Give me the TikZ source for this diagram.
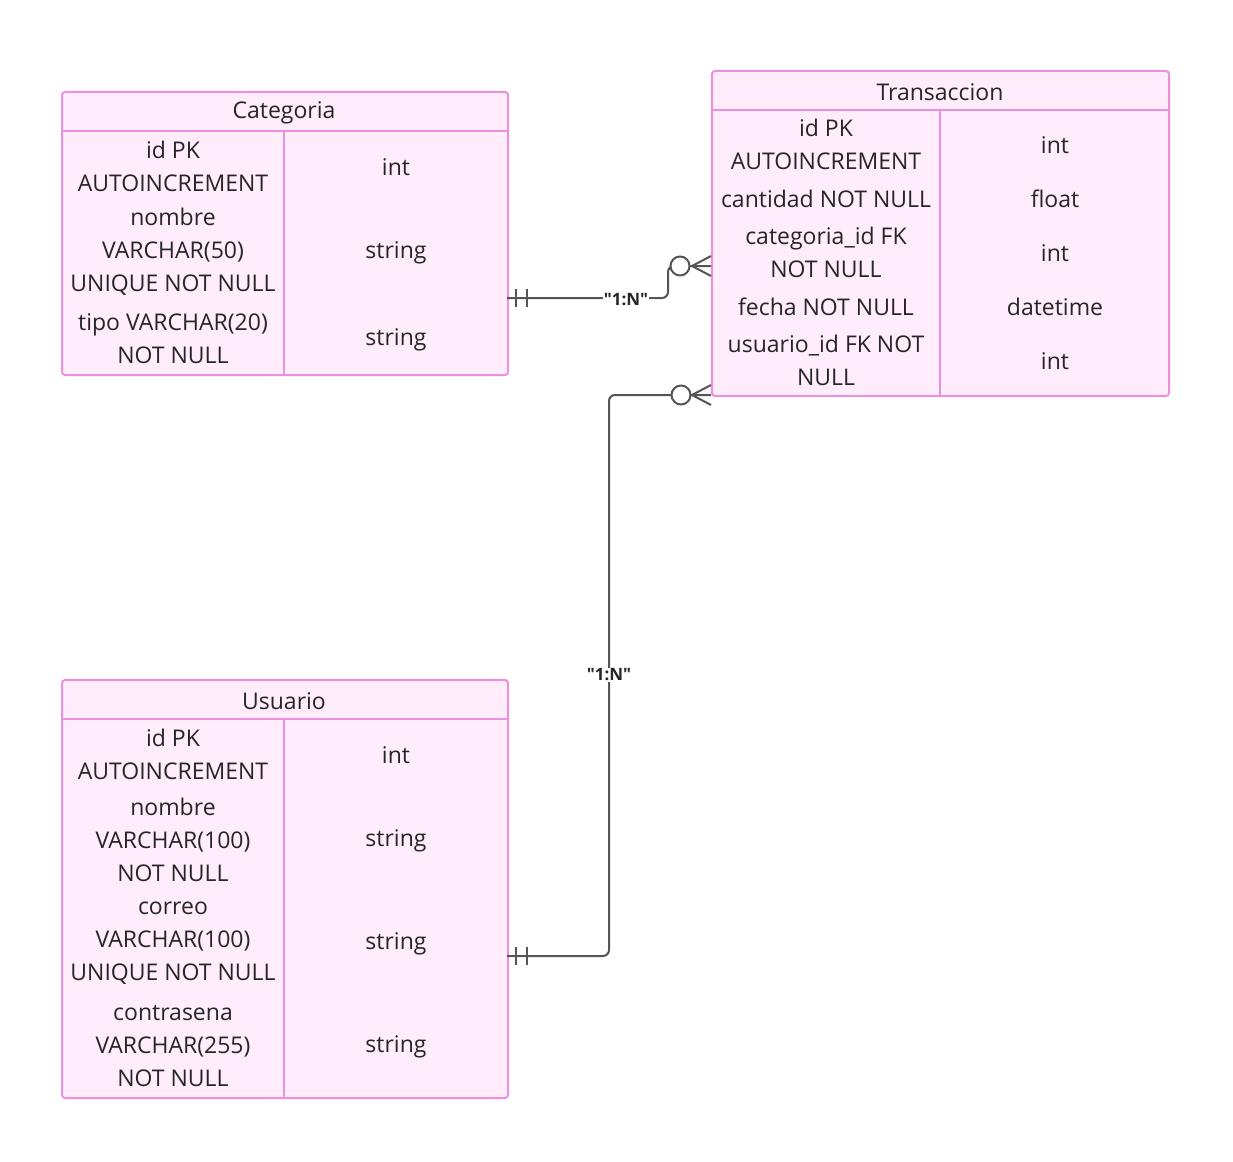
\documentclass[tikz,border=0pt]{standalone}
\usepackage{fontspec}
\setmainfont{Open Sans}
\newfontfamily\lblfont{Open Sans}
\definecolor{tfill}{HTML}{FFEDFC}
\definecolor{tline}{HTML}{EC8FDF}
\definecolor{ttext}{HTML}{262626}
\definecolor{cline}{HTML}{555555}
\tikzset{
  tbl/.style={draw=tline, fill=tfill, line width=2pt, rounded corners=3pt, anchor=north west, inner sep=0pt},
  tblline/.style={draw=tline, line width=2pt},
  cell/.style={text=ttext, font=\fontsize{23}{33}\selectfont, align=center, inner sep=0pt},
  conn/.style={draw=cline, line width=2pt, rounded corners=6pt},
  lbl/.style={fill=white, text=ttext, font=\lblfont\fontsize{17}{20}\selectfont\bfseries, inner sep=1pt},
  ring/.style={draw=cline, line width=2pt, fill=white}
}
\begin{document}
\begin{tikzpicture}[x=1pt,y=-1pt]
\useasboundingbox (0,0) rectangle (1233,1161);
% ---------- Categoria
\node[tbl, minimum width=446pt, minimum height=283pt] (cat) at (61,91) {};
\draw[tblline] (61,131) -- (507,131);
\draw[tblline] (284,131) -- (284,374);
\node[cell] (catH) at (284,113) {Categoria};
\node[cell] (cat1a) at (173,166) {id PK\\AUTOINCREMENT};
\node[cell] (cat1b) at (396,167) {int};
\node[cell] (cat2a) at (173,252) {nombre\\VARCHAR(50)\\UNIQUE NOT NULL};
\node[cell] (cat2b) at (396,253) {string};
\node[cell] (cat3a) at (173,339) {tipo VARCHAR(20)\\NOT NULL};
\node[cell] (cat3b) at (396,340) {string};
% ---------- Transaccion
\node[tbl, minimum width=457pt, minimum height=325pt] (tra) at (711,70) {};
\draw[tblline] (711,110) -- (1168,110);
\draw[tblline] (940,110) -- (940,395);
\node[cell] (traH) at (940,92) {Transaccion};
\node[cell] (tra1a) at (826,144) {id PK\\AUTOINCREMENT};
\node[cell] (tra1b) at (1055,145) {int};
\node[cell] (tra2a) at (826,199) {cantidad NOT NULL};
\node[cell] (tra2b) at (1055,199) {float};
\node[cell] (tra3a) at (826,252) {categoria\_id FK\\NOT NULL};
\node[cell] (tra3b) at (1055,253) {int};
\node[cell] (tra4a) at (826,307) {fecha NOT NULL};
\node[cell] (tra4b) at (1055,307) {datetime};
\node[cell] (tra5a) at (826,360) {usuario\_id FK NOT\\NULL};
\node[cell] (tra5b) at (1055,361) {int};
% ---------- Usuario
\node[tbl, minimum width=446pt, minimum height=418pt] (usu) at (61,679) {};
\draw[tblline] (61,719) -- (507,719);
\draw[tblline] (284,719) -- (284,1097);
\node[cell] (usuH) at (284,701) {Usuario};
\node[cell] (usu1a) at (173,754) {id PK\\AUTOINCREMENT};
\node[cell] (usu1b) at (396,755) {int};
\node[cell] (usu2a) at (173,840) {nombre\\VARCHAR(100)\\NOT NULL};
\node[cell] (usu2b) at (396,841) {string};
\node[cell] (usu3a) at (173,943) {correo\\VARCHAR(100)\\UNIQUE NOT NULL};
\node[cell] (usu3b) at (396,944) {string};
\node[cell] (usu4a) at (173,1046) {contrasena\\VARCHAR(255)\\NOT NULL};
\node[cell] (usu4b) at (396,1047) {string};
% ---------- Connector Categoria -> Transaccion
\coordinate (c1s) at (507,298);
\coordinate (c1e) at (711,266);
\draw[conn] (c1s) -- (668,298) -- (668,266) -- (c1e);
\node[lbl] (l1) at (626,300) {"1:N"};
\draw[cline, line width=2pt] (516,289) -- (516,307) (527,289) -- (527,307);
\draw[cline, line width=2pt] (692,266) -- (711,256) (692,266) -- (711,276);
\node[ring, circle, minimum size=19pt, inner sep=0pt] (r1) at (680,266) {};
% ---------- Connector Usuario -> Transaccion
\coordinate (c2s) at (507,956);
\coordinate (c2e) at (711,395);
\draw[conn] (c2s) -- (609,956) -- (609,395) -- (c2e);
\node[lbl] (l2) at (609,675) {"1:N"};
\draw[cline, line width=2pt] (516,947) -- (516,965) (527,947) -- (527,965);
\draw[cline, line width=2pt] (692,395) -- (711,385) (692,395) -- (711,405);
\node[ring, circle, minimum size=19pt, inner sep=0pt] (r2) at (681,395) {};
\end{tikzpicture}
\end{document}
